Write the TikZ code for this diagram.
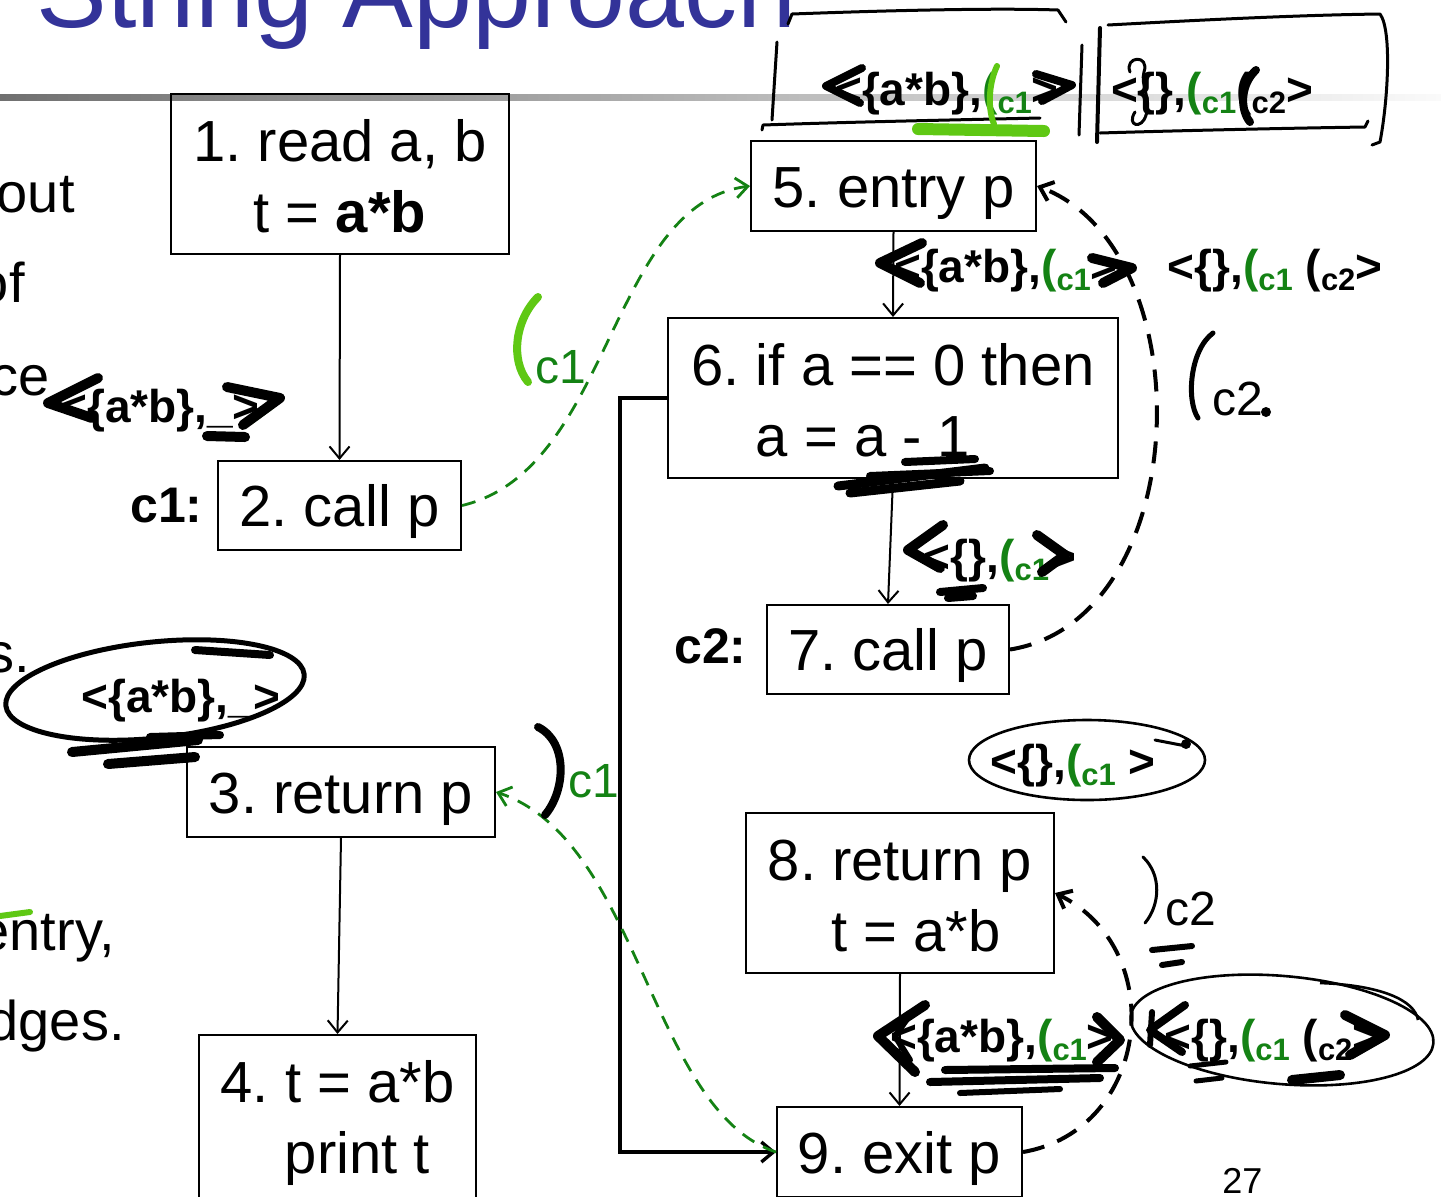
\documentclass[tikz,border=0pt]{standalone}
\usepackage{fontspec}
\setmainfont{Liberation Sans}
\usetikzlibrary{arrows.meta}
\definecolor{titleblue}{RGB}{51,51,153}
\definecolor{grn}{RGB}{20,130,20}
\definecolor{hlgrn}{RGB}{95,200,20}
\newcommand\ann{\bfseries\fontsize{23}{25}\selectfont}
\newcommand\subc[1]{\raisebox{-0.35ex}{\fontsize{15.5}{16}\selectfont #1}}
\newcommand\gp[1]{\textcolor{grn}{(\subc{#1}}}
\newcommand\bp[1]{(\subc{#1}}
\frenchspacing
\begin{document}
\frenchspacing
\begin{tikzpicture}[x=0.5pt,y=-0.5pt,
  box/.style={draw, line width=1pt, inner sep=0pt, align=center, font=\frenchspacing\fontsize{29}{35.5}\selectfont},
  one/.style={text height=27pt, text depth=6pt},
  two/.style={text height=62pt, text depth=4pt},
  edge/.style={line width=1pt, -{Straight Barb[length=6pt,width=10pt]}},
  thickedge/.style={line width=1.7pt, -{Straight Barb[length=6pt,width=10pt]}},
  gdash/.style={grn, line width=1.4pt, dash pattern=on 7pt off 5pt, -{Straight Barb[length=6pt,width=10pt]}},
  bdash/.style={black, line width=2pt, dash pattern=on 11pt off 7pt, -{Straight Barb[length=6pt,width=10pt]}},
  hand/.style={line width=4pt, line cap=round, line join=round},
  thinhand/.style={line width=1.5pt, line cap=round, line join=round},
  body/.style={anchor=base east, inner sep=0pt, font=\fontsize{28}{32}\selectfont},
  lab/.style={anchor=base west, inner sep=0pt, font=\fontsize{24}{28}\selectfont},
  annot/.style={anchor=base, inner sep=0pt, font=\ann}
]
\useasboundingbox (0,0) rectangle (1441,1196);
\clip (0,0) rectangle (1441,1196);

% title and rule
\shade[left color={rgb,255:red,112;green,112;blue,112}, right color={rgb,255:red,250;green,250;blue,250}] (0,94) rectangle (1441,100);
\node[anchor=base west, inner sep=0pt, text=titleblue, font=\fontsize{53}{60}\selectfont] (title) at (36,27) {String Approach};

% cut-off body text
\node[body] (b1) at (75,212) {out};
\node[body] (b2) at (25,302) {of};
\node[body] (b3) at (50,395) {ce};
\node[body] (b4) at (30,672) {s.};
\node[body] (b5) at (115,950) {entry,};
\node[body] (b6) at (125,1040) {dges.};
\draw[hlgrn, line width=3pt, line cap=round] (0,916) -- (30,912);

% boxes
\node[box, two, minimum width=169pt, minimum height=80pt] (n1) at (340,174) {1. read a, b\\t = \textbf{a*b}};
\node[box, one, minimum width=121.5pt, minimum height=44.5pt] (n2) at (339.5,505.5) {2. call p};
\node[box, one, minimum width=154pt, minimum height=45pt] (n3) at (341,792) {3. return p};
\node[box, text height=60pt, text depth=12pt, minimum width=138.5pt, minimum height=90pt] (n4) at (337.5,1125) {4. t = a*b\\\rule{20pt}{0pt}print t};
\node[box, one, minimum width=142.5pt, minimum height=45pt] (n5) at (893.5,186) {5. entry p};
\node[box, two, minimum width=225pt, minimum height=80pt] (n6) at (893,398) {6. if a == 0 then\\a = a - 1\rule{30pt}{0pt}};
\node[box, one, minimum width=121pt, minimum height=44.5pt] (n7) at (888,649.5) {7. call p};
\node[box, two, minimum width=154pt, minimum height=80pt] (n8) at (900,893) {8. return p\\\rule{16pt}{0pt}t = a*b};
\node[box, one, minimum width=122.5pt, minimum height=45pt] (n9) at (899.5,1152) {9. exit p};

\node[anchor=base east, inner sep=0pt, font=\bfseries\fontsize{25}{30}\selectfont] (c1lab) at (203,522) {c1:};
\node[anchor=base east, inner sep=0pt, font=\bfseries\fontsize{25}{30}\selectfont] (c2lab) at (747,663) {c2:};

% edges
\draw[edge] (n1.south) -- (n2.north);
\draw[edge] (n3.south) -- (n4.north);
\draw[edge] (n5.south) -- (n6.north);
\draw[edge] (n6.south) -- (n7.north);
\draw[edge] (n8.south) -- (n9.north);
\draw[thickedge] (n6.west) -- ++(-47,0) |- (n9.west);
\draw[gdash] (n2.east) .. controls (612,470) and (608,205) .. (n5.west);
\draw[gdash] (n9.west) .. controls (650,1110) and (640,840) .. (n3.east);
\draw[bdash] (n7.east) .. controls (1195,620) and (1205,250) .. (n5.east);
\draw[bdash] (n9.east) .. controls (1150,1130) and (1170,950) .. (n8.east);

% small labels
\node[lab, text=grn] (lc1a) at (535,383) {c1};
\draw[hlgrn, hand] (538,297) .. controls (515,320) and (510,360) .. (528,382);
\node[lab] (lc2a) at (1212,415) {c2};
\draw[hand, line width=2.5pt] (1213,333) .. controls (1190,350) and (1186,400) .. (1198,418);
\fill (1266,412) circle (2.5pt);
\node[lab, text=grn] (lc1b) at (568,797) {c1};
\draw[hand] (538,727) .. controls (568,742) and (566,790) .. (545,815);
\node[lab] (lc2b) at (1165,925) {c2};
\draw[thinhand] (1143,857) .. controls (1162,875) and (1160,905) .. (1145,923);
\draw[hand, line width=3pt] (1152,950) -- (1192,946);
\draw[hand, line width=3pt] (1162,965) -- (1182,962);
\node[anchor=base west, inner sep=0pt, font=\fontsize{18}{20}\selectfont] (pg) at (1222,1193) {27};

% top-right hand boxes
\node[annot] (a1) at (947,105) {<\{a*b\},\gp{c1}>};
\node[annot] (a2) at (1212,105) {<\{\},\gp{c1}\bp{c2}>};
\draw[thinhand] (788,24) -- (792,14) .. controls (900,10) and (1000,8) .. (1058,10) -- (1066,22);
\draw[thinhand] (777,42) -- (772,120);
\draw[thinhand] (762,130) -- (763,125) .. controls (850,122) and (950,120) .. (1040,118);
\draw[thinhand] (1082,45) -- (1079,135);
\draw[thinhand, line width=2pt] (1100,28) -- (1097,142);
\draw[thinhand] (1108,25) .. controls (1200,20) and (1300,15) .. (1380,14) .. controls (1392,30) and (1388,100) .. (1380,142) -- (1372,145);
\draw[thinhand] (1100,133) .. controls (1200,130) and (1300,128) .. (1365,127) -- (1368,121);
\draw[hand] (862,68) -- (826,86) -- (860,103);
\draw[hand] (1036,74) -- (1072,85) -- (1042,101);
\draw[hlgrn, hand, line width=3pt] (997,66) .. controls (988,85) and (988,110) .. (994,124);
\draw[hlgrn, hand, line width=6pt] (918,129) -- (1044,131);
\draw[hand] (1256,70) .. controls (1240,85) and (1240,110) .. (1250,122);
\draw[thinhand] (1130,72) .. controls (1124,56) and (1150,54) .. (1144,72) .. controls (1140,85) and (1152,100) .. (1146,115) .. controls (1142,130) and (1126,126) .. (1135,112);

% second row
\node[annot] (a3) at (1006,282) {<\{a*b\},\gp{c1}>};
\node[annot] (a4) at (1275,282) {<\{\},\gp{c1} \bp{c2}>};
\draw[hand, line width=5pt] (922,243) -- (880,263) -- (920,283);
\draw[hand, line width=5pt] (1092,258) -- (1132,268) -- (1103,283);

% near "ce"
\draw[hlgrn, hand, line width=3pt] (250,422) -- (272,406);
\node[annot] (a5) at (160,422) {<\{a*b\},\_>};
\draw[hand, line width=5pt] (98,378) -- (48,403) -- (92,418);
\draw[hand, line width=5pt] (227,387) -- (280,398) -- (243,425);
\draw[hand, line width=5pt] (207,436) -- (245,437);

% left ellipse
\node[annot] (a6) at (181,712) {<\{a*b\},\_>};
\draw[line width=2.5pt, rotate around={6:(155,690)}] (155,690) ellipse [x radius=75pt, y radius=24pt];
\draw[hand] (195,650) -- (270,655);
\draw[hand, line width=5pt] (72,752) -- (198,740);
\draw[hand, line width=5pt] (108,764) -- (195,757);
\draw[hand] (150,737) -- (220,735);

% under 6
\draw[hand, line width=4.5pt] (838,486) -- (985,468);
\draw[hand, line width=4.5pt] (850,493) -- (960,481);
\draw[hand, line width=4pt] (870,476) -- (990,471);
\draw[hand, line width=4pt] (905,462) -- (975,459);

% between 6 and 7
\node[annot] (a7) at (1000,572) {<\{\},\gp{c1}>};
\draw[hand, line width=5pt] (943,525) -- (908,550) -- (940,568);
\draw[hand, line width=5pt] (1037,535) -- (1065,555) -- (1042,572);
\draw[hand] (940,592) -- (983,588);
\draw[hand] (948,598) -- (973,596);

% middle ellipse
\node[annot] (a8) at (1073,777) {<\{\},\gp{c1} >};
\draw[line width=1.3pt] (1087,760) ellipse [x radius=59pt, y radius=20pt];
\draw[thinhand] (1155,740) -- (1186,746);
\fill (1186,744) circle (2.5pt);

% bottom row
\node[annot] (a9) at (1002,1052) {<\{a*b\},\gp{c1}>};
\draw[hand, line width=5pt] (925,1005) -- (878,1036) -- (915,1072);
\draw[hand, line width=3pt] (912,1012) -- (895,1036) -- (910,1060);
\draw[hand, line width=5pt] (1097,1017) -- (1120,1040) -- (1097,1062);
\draw[hand, line width=4pt] (945,1070) -- (1115,1068);
\draw[hand, line width=4pt] (930,1082) -- (1100,1078);
\draw[hand, line width=3pt] (960,1093) -- (1060,1089);

\node[annot] (a10) at (1272,1052) {<\{\},\gp{c1} \bp{c2}>};
\draw[line width=1.3pt, rotate around={-5:(1282,1030)}] (1282,1030) ellipse [x radius=76pt, y radius=27pt];
\draw[line width=1.3pt] (1320,983) .. controls (1380,985) and (1415,1000) .. (1418,1020);
\draw[hand, line width=4pt] (1185,1005) -- (1150,1030) -- (1182,1052);
\draw[hand, line width=3pt] (1152,1012) -- (1150,1045);
\draw[hand, line width=5pt] (1345,1015) -- (1385,1035) -- (1350,1055);
\draw[hand, line width=5pt] (1292,1080) -- (1340,1075);
\draw[hand, line width=2.5pt] (1190,1066) -- (1226,1062);
\draw[hand, line width=2.5pt] (1196,1081) -- (1222,1078);
\end{tikzpicture}
\end{document}
